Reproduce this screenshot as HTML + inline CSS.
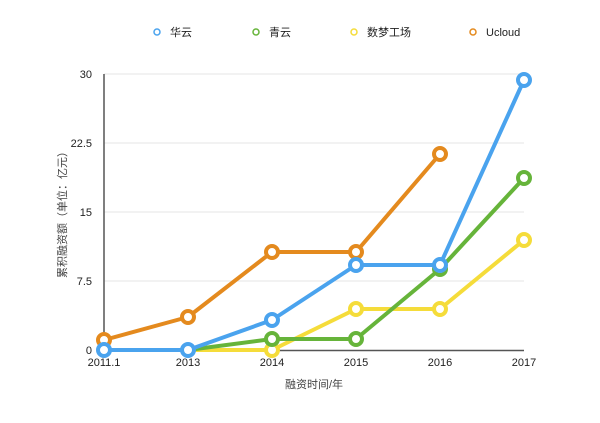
<!DOCTYPE html><html><head><meta charset="utf-8"><style>body{margin:0;background:#fff}svg{display:block}text{font-family:"Liberation Sans","Noto Sans CJK SC",sans-serif}</style></head><body>
<svg width="600" height="423" viewBox="0 0 600 423">
<g font-size="11" fill="#222">
<circle cx="157" cy="32" r="3" fill="none" stroke="#4aa3ee" stroke-width="1.5"/><text x="170" y="36">华云</text>
<circle cx="256" cy="32" r="3" fill="none" stroke="#66b43a" stroke-width="1.5"/><text x="269" y="36">青云</text>
<circle cx="354" cy="32" r="3" fill="none" stroke="#f5dc3a" stroke-width="1.5"/><text x="367" y="36">数梦工场</text>
<circle cx="473" cy="32" r="3" fill="none" stroke="#e48a1e" stroke-width="1.5"/><text x="486" y="36">Ucloud</text>
</g>
<g stroke="#e6e6e6" stroke-width="1"><line x1="104" y1="74" x2="524" y2="74"/><line x1="104" y1="143" x2="524" y2="143"/><line x1="104" y1="212" x2="524" y2="212"/><line x1="104" y1="281" x2="524" y2="281"/></g>
<line x1="104" y1="74" x2="104" y2="351" stroke="#555" stroke-width="1.5"/>
<line x1="104" y1="350.5" x2="524" y2="350.5" stroke="#555" stroke-width="1.5"/>
<g font-size="11" fill="#222" text-anchor="end"><text x="92" y="78">30</text><text x="92" y="147">22.5</text><text x="92" y="216">15</text><text x="92" y="285">7.5</text><text x="92" y="354">0</text></g>
<g font-size="11" fill="#222" text-anchor="middle"><text x="104" y="366">2011.1</text><text x="188" y="366">2013</text><text x="272" y="366">2014</text><text x="356" y="366">2015</text><text x="440" y="366">2016</text><text x="524" y="366">2017</text></g>
<text x="314" y="388" font-size="11" fill="#444" text-anchor="middle" font-family="Noto Serif CJK SC,serif">融资时间/年</text>
<text transform="translate(66 212) rotate(-90)" font-size="11" fill="#444" text-anchor="middle" font-family="Noto Serif CJK SC,serif">累积融资额（单位：亿元）</text>
<g fill="#fff" stroke-width="4" stroke-linejoin="round">
<polyline fill="none" stroke="#f5dc3a" points="188,350 272,350 356,309 440,309 524,240"/>
<circle cx="272" cy="350" r="6" stroke="#f5dc3a"/><circle cx="356" cy="309" r="6" stroke="#f5dc3a"/><circle cx="440" cy="309" r="6" stroke="#f5dc3a"/><circle cx="524" cy="240" r="6" stroke="#f5dc3a"/>
<polyline fill="none" stroke="#66b43a" points="188,350 272,339 356,339 440,269 524,178"/>
<circle cx="272" cy="339" r="6" stroke="#66b43a"/><circle cx="356" cy="339" r="6" stroke="#66b43a"/><circle cx="440" cy="269" r="6" stroke="#66b43a"/><circle cx="524" cy="178" r="6" stroke="#66b43a"/>
<polyline fill="none" stroke="#e48a1e" points="104,340 188,317 272,252 356,252 440,154"/>
<circle cx="104" cy="340" r="6" stroke="#e48a1e"/><circle cx="188" cy="317" r="6" stroke="#e48a1e"/><circle cx="272" cy="252" r="6" stroke="#e48a1e"/><circle cx="356" cy="252" r="6" stroke="#e48a1e"/><circle cx="440" cy="154" r="6" stroke="#e48a1e"/>
<polyline fill="none" stroke="#4aa3ee" points="104,350 188,350 272,320 356,265 440,265 524,80"/>
<circle cx="104" cy="350" r="6" stroke="#4aa3ee"/><circle cx="188" cy="350" r="6" stroke="#4aa3ee"/><circle cx="272" cy="320" r="6" stroke="#4aa3ee"/><circle cx="356" cy="265" r="6" stroke="#4aa3ee"/><circle cx="440" cy="265" r="6" stroke="#4aa3ee"/><circle cx="524" cy="80" r="6" stroke="#4aa3ee"/>
</g>
</svg></body></html>
